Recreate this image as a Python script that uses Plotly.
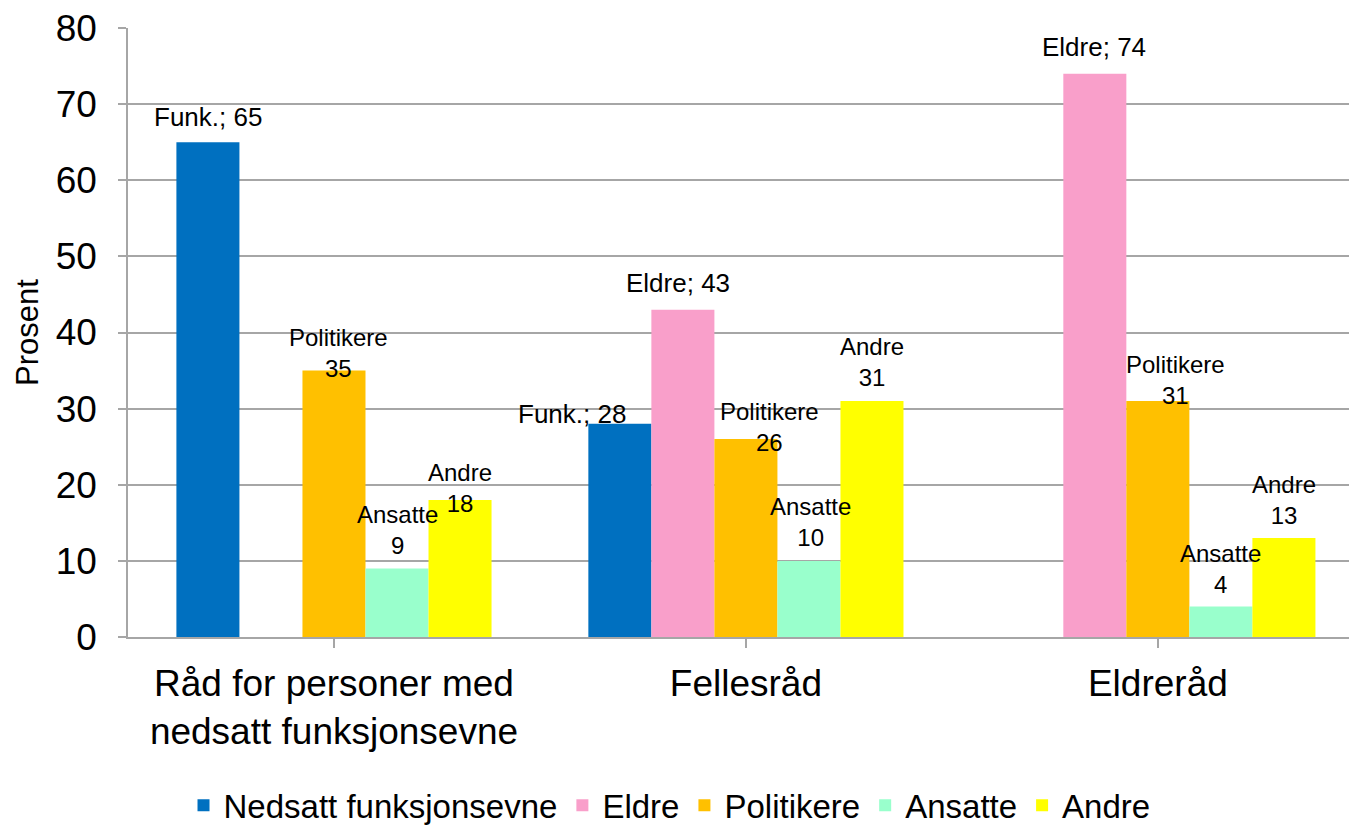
import plotly.graph_objects as go

categories = ['Råd for personer med<br>nedsatt funksjonsevne', 'Fellesråd', 'Eldreråd']
series_names = ['Nedsatt funksjonsevne', 'Eldre', 'Politikere', 'Ansatte', 'Andre']
short_names = ['Funk.', 'Eldre', 'Politikere', 'Ansatte', 'Andre']

nedsatt = [65, 28, None]
eldre = [None, 43, 74]
politikere = [35, 26, 31]
ansatte = [9, 10, 4]
andre = [18, 31, 13]

values = [nedsatt, eldre, politikere, ansatte, andre]

colors = ['#0070C0', '#F99FCA', '#FFC000', '#99FFCC', '#FFFF00']
font = 'Liberation Sans, Arial, sans-serif'

# label placement: (series, category) -> (px above bar top, px sideways)
label_offsets = {
    (0, 0): (25, 0), (2, 0): (18, 5), (3, 0): (38, 0), (4, 0): (12, 0),
    (0, 1): (10, -48), (1, 1): (27, -5), (2, 1): (12, 24), (3, 1): (39, 2), (4, 1): (39, 0),
    (1, 2): (27, -1), (2, 2): (21, 18), (3, 2): (38, 0), (4, 2): (38, 0),
}

bargap = 0.235
slot = (1 - bargap) / len(series_names)

fig = go.Figure()
for name, vals, col in zip(series_names, values, colors):
    fig.add_trace(go.Bar(
        x=list(range(len(categories))),
        y=vals,
        name=name,
        marker=dict(color=col, line=dict(width=0)),
    ))

annotations = []
for s, vals in enumerate(values):
    for c, v in enumerate(vals):
        if v is None:
            continue
        dy, dx = label_offsets.get((s, c), (25, 0))
        if s < 2:
            txt = f'{short_names[s]}; {v}'
            size = 26
        else:
            txt = f'{short_names[s]}<br>{v}'
            size = 24
        annotations.append(dict(
            x=c + (s - 2) * slot, y=v, xref='x', yref='y',
            text=txt, showarrow=False, yanchor='middle',
            yshift=dy, xshift=dx,
            font=dict(family=font, size=size, color='black'),
        ))

fig.update_layout(
    width=1349, height=825,
    margin=dict(l=128, r=0, t=28, b=188, autoexpand=False),
    paper_bgcolor='white', plot_bgcolor='white',
    barmode='group', bargap=bargap, bargroupgap=0,
    font=dict(family=font, color='black'),
    annotations=annotations,
    showlegend=True,
    legend=dict(
        orientation='h', x=0.4963, xanchor='center', xref='container',
        y=0.024, yanchor='middle', yref='container',
        font=dict(family=font, size=33, color='black'),
        itemwidth=30, tracegroupgap=0,
    ),
    xaxis=dict(
        tickmode='array', tickvals=list(range(len(categories))), ticktext=categories,
        range=[-0.5, 2.464], automargin=False,
        showline=True, linecolor='#A6A6A6', linewidth=1.5,
        ticks='outside', ticklen=9, tickcolor='#A6A6A6', tickwidth=1.5,
        showgrid=False, zeroline=False, ticklabelstandoff=4,
        tickfont=dict(family=font, size=37, color='black'),
    ),
    yaxis=dict(
        range=[0, 80], dtick=10, automargin=False,
        showline=True, linecolor='#A6A6A6', linewidth=1.5,
        ticks='outside', ticklen=8, tickcolor='#A6A6A6', tickwidth=1.5,
        showgrid=True, gridcolor='#A6A6A6', gridwidth=1.5,
        zeroline=False, ticklabeloverflow='allow',
        tickfont=dict(family=font, size=37, color='black'),
        ticklabelstandoff=14,
        title=dict(text='Prosent', font=dict(family=font, size=31, color='black'), standoff=8),
    ),
)

# category boundary ticks on x axis
fig.update_xaxes(tickson='boundaries')

# drop the default 8px body margin so the 1349x825 figure fills the window
fig.write_html('out.html', config={'displayModeBar': False},
               post_script="document.body.style.margin='0px';")
